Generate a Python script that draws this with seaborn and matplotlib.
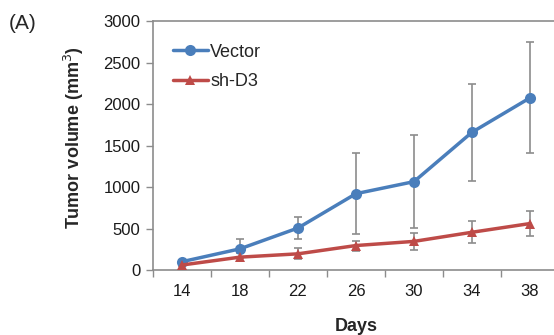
import numpy as np
import pandas as pd
import matplotlib
matplotlib.use('Agg')
import matplotlib.pyplot as plt
import seaborn as sn

# data
days = ['14', '18', '22', '26', '30', '34', '38']
vector_mean = [100, 255, 506, 920, 1065, 1660, 2075]
vector_err = [20, 115, 135, 490, 560, 585, 670]
shd3_mean = [60, 155, 195, 295, 345, 455, 560]
shd3_err = [15, 45, 65, 60, 105, 135, 150]

blue = '#4A7EBB'
red = '#BE4B48'
gray = '#8C8C8C'

sn.set_theme(style='white')
plt.rcParams['font.family'] = ['Liberation Sans', 'DejaVu Sans']

df = pd.DataFrame({
    'pos': list(range(len(days))) * 2,
    'volume': vector_mean + shd3_mean,
    'group': ['Vector'] * len(days) + ['sh-D3'] * len(days),
})

fig = plt.figure(figsize=(5.54, 3.35), dpi=100)
ax = fig.add_axes([0.276, 0.194, 0.733, 0.743])

# error bars first so the lines sit on top
x = np.arange(len(days))
ax.errorbar(x, vector_mean, yerr=vector_err, fmt='none', ecolor=gray,
            elinewidth=1.2, capsize=3, capthick=1.2, zorder=1)
ax.errorbar(x, shd3_mean, yerr=shd3_err, fmt='none', ecolor=gray,
            elinewidth=1.2, capsize=3, capthick=1.2, zorder=1)

sn.lineplot(data=df, x='pos', y='volume', hue='group', style='group',
            palette={'Vector': blue, 'sh-D3': red},
            markers={'Vector': 'o', 'sh-D3': '^'}, dashes=False,
            linewidth=2.5, markersize=8, markeredgewidth=0, ax=ax, zorder=3)
for line in ax.lines:
    if line.get_marker() == '^':
        line.set_markersize(6.5)

ax.set_xlim(-0.5, len(days) - 0.5)
ax.set_ylim(0, 3000)
ax.set_yticks(range(0, 3001, 500))
ax.set_xticks(x)
ax.set_xticklabels(days)
ax.set_xticks(np.arange(-0.5, len(days), 1), minor=True)
ax.tick_params(axis='x', which='major', length=0, pad=10, labelsize=12, colors='#1a1a1a')
ax.tick_params(axis='x', which='minor', length=5, width=1, color=gray, direction='out', bottom=True)
ax.tick_params(axis='y', length=5, width=1, color=gray, direction='out', left=True,
               labelsize=12, pad=4)
for lab in ax.get_yticklabels():
    lab.set_color('#1a1a1a')

for s in ['left', 'bottom', 'top']:
    ax.spines[s].set_color(gray)
    ax.spines[s].set_linewidth(1.2)
ax.spines['right'].set_visible(False)

ax.set_xlabel('Days', fontsize=13, fontweight='bold', labelpad=14)
ax.set_ylabel('Tumor volume (mm$^3$)', fontsize=13, fontweight='bold')
ax.yaxis.set_label_coords(-0.165, 0.53)

leg = ax.legend(loc='upper left', bbox_to_anchor=(0.01, 0.975), frameon=False,
                fontsize=13, handlelength=1.9, handletextpad=0.15, labelspacing=0.7)

fig.text(0.015, 0.931, '(A)', fontsize=15, ha='left', va='center')

plt.savefig('out.png', dpi=100)
